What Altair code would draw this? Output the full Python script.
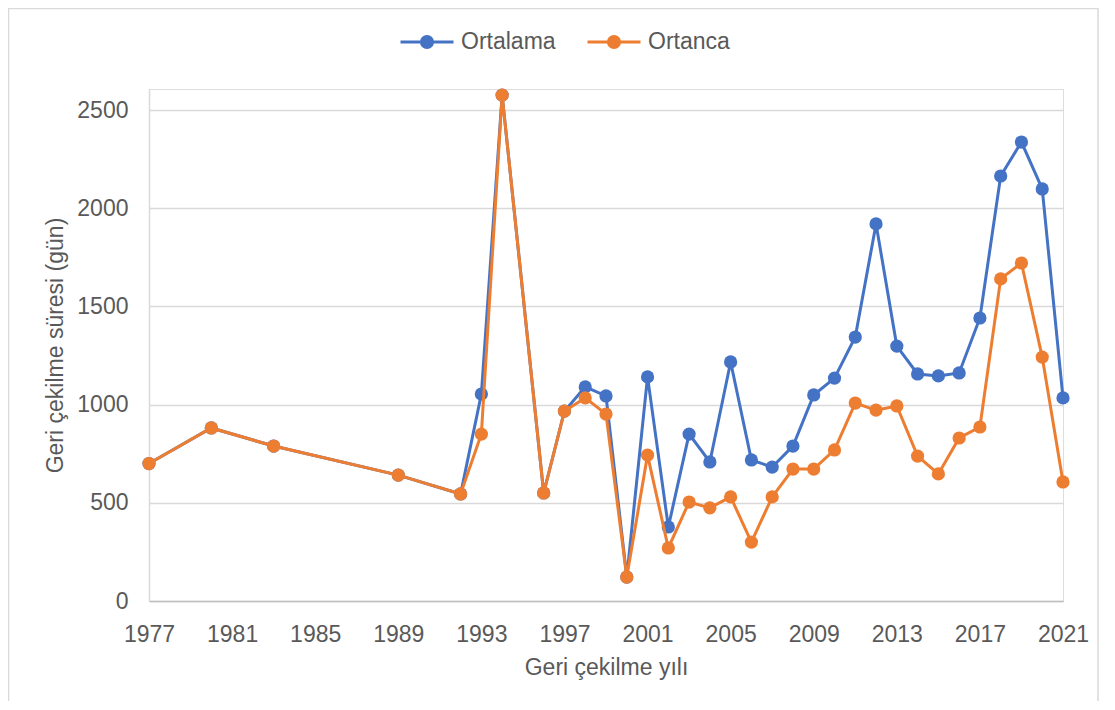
import altair as alt
import pandas as pd

years = [1977, 1980, 1983, 1989, 1992, 1993, 1994, 1996, 1997, 1998, 1999, 2000,
         2001, 2002, 2003, 2004, 2005, 2006, 2007, 2008, 2009, 2010, 2011, 2012,
         2013, 2014, 2015, 2016, 2017, 2018, 2019, 2020, 2021]
ortalama = [700, 881, 789, 641, 545, 1054, 2576, 550, 967, 1090, 1044, 122,
            1141, 377, 850, 708, 1217, 718, 682, 789, 1049, 1135, 1344, 1920,
            1298, 1156, 1146, 1161, 1441, 2164, 2337, 2098, 1034]
ortanca = [700, 881, 789, 641, 545, 850, 2576, 550, 967, 1034, 952, 122,
           743, 270, 504, 474, 530, 300, 530, 672, 672, 769, 1008, 972,
           993, 738, 647, 830, 886, 1640, 1721, 1242, 606]
series_names = ["Ortalama", "Ortanca"]
series_colors = ["#4472C4", "#ED7D31"]
x_ticks = [1977, 1981, 1985, 1989, 1993, 1997, 2001, 2005, 2009, 2013, 2017, 2021]
y_ticks = [0, 500, 1000, 1500, 2000, 2500]

rows = []
for name, vals in zip(series_names, [ortalama, ortanca]):
    for yr, v in zip(years, vals):
        rows.append({"yil": yr, "deger": v, "seri": name})
df = pd.DataFrame(rows)

TXT = "#595959"
FS = 23

x_enc = alt.X("yil:Q", scale=alt.Scale(domain=[1977, 2021], nice=False, zero=False),
              axis=alt.Axis(values=x_ticks, format="d", title="Geri çekilme yılı",
                            grid=False, ticks=False, tickSize=0, labelPadding=22,
                            titlePadding=10, domainColor="#BFBFBF", domainWidth=1.5,
                            labelFlush=False))
y_enc = alt.Y("deger:Q", scale=alt.Scale(domain=[0, 2607], nice=False),
              axis=alt.Axis(values=y_ticks, format="d", title="Geri çekilme süresi (gün)",
                            grid=True, gridColor="#D9D9D9", gridWidth=1.5,
                            ticks=False, tickSize=0, labelPadding=21, titlePadding=9,
                            domainColor="#D9D9D9", domainWidth=1.5))

sym_path = ("M-1,0L1,0M-0.21,0A0.21,0.21,0,1,1,0.21,0"
            "A0.21,0.21,0,1,1,-0.21,0Z")
legend = alt.Legend(title=None, orient="none", direction="horizontal",
                    legendX=250, legendY=-75, symbolType=sym_path,
                    symbolSize=2809, symbolStrokeWidth=3, labelFontSize=FS,
                    labelColor=TXT, labelOffset=6, columnPadding=25)
cscale = alt.Scale(domain=series_names, range=series_colors)

base = alt.Chart(df)
layers = []
border = alt.Chart(pd.DataFrame({"b": [0]})).mark_rect(
    fillOpacity=0, stroke="#D9D9D9", strokeWidth=1.5
).encode(x=alt.value(-140.5), x2=alt.value(949), y=alt.value(-80.5), y2=alt.value(700))
layers.append(border)
for name in series_names:
    f = base.transform_filter(alt.datum.seri == name)
    line = f.mark_line(strokeWidth=3).encode(
        x=x_enc, y=y_enc, color=alt.Color("seri:N", scale=cscale, legend=legend))
    pts = f.mark_point(filled=True, size=175, opacity=1).encode(
        x=x_enc, y=y_enc, fill=alt.Fill("seri:N", scale=cscale, legend=legend))
    layers += [line, pts]

chart = alt.layer(*layers).properties(
    width=914, height=512, autosize="none",
    padding={"left": 141, "top": 81, "right": 44, "bottom": 100},
    background="white",
).configure_view(stroke=None).configure(font="Liberation Sans").configure_axis(
    labelFontSize=FS, titleFontSize=FS, labelColor=TXT, titleColor=TXT,
    titleFontWeight="normal", labelFont="Liberation Sans", titleFont="Liberation Sans"
).configure_legend(labelFont="Liberation Sans")

chart.save("out.html", embed_options={"renderer": "svg", "actions": False})
